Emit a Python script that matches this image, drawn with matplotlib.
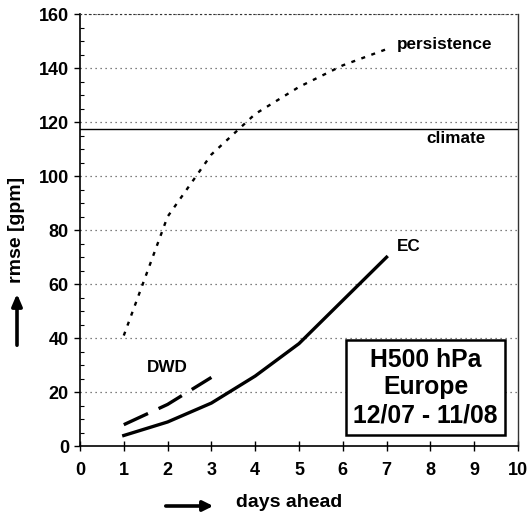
import numpy as np
import matplotlib
matplotlib.use("Agg")
import matplotlib.pyplot as plt
from matplotlib.ticker import MultipleLocator

plt.rcParams['font.family'] = ['Liberation Sans', 'DejaVu Sans']
plt.rcParams['font.weight'] = 'bold'

# data
days = [1, 2, 3, 4, 5, 6, 7]
persistence = [41, 85, 108, 123, 133, 141, 147]
ec = [4, 9, 16, 26, 38, 54, 70]
dwd_days = [1, 2, 3]
dwd = [8, 15.5, 25.5]
climate = 117.5

xticks = list(range(0, 11))
yticks = list(range(0, 161, 20))

fig = plt.figure(figsize=(5.28, 5.15), dpi=100)
ax = fig.add_axes([0.1515, 0.1334, 0.8295, 0.8394])

# grid
for y in yticks[1:]:
    ax.axhline(y, color='#555555', lw=0.9, ls=(0, (1, 3)), zorder=1)

ax.axhline(climate, color='black', lw=1.0, zorder=2)

ax.plot(days, persistence, color='black', lw=1.7, dashes=(1.7, 2.8), zorder=3)
ax.plot(days, ec, color='black', lw=2.4, solid_joinstyle='round', zorder=3)
ax.plot(dwd_days, dwd, color='black', lw=2.4, dashes=(8, 3.5), zorder=3)

ax.set_xlim(0, 10)
ax.set_ylim(0, 160)
ax.set_xticks(xticks)
ax.set_yticks(yticks)
ax.yaxis.set_minor_locator(MultipleLocator(5))
ax.tick_params(axis='x', direction='inout', length=7, width=1, labelsize=13, pad=8)
ax.tick_params(axis='y', which='major', direction='out', length=4, width=1, labelsize=13, pad=4)
ax.tick_params(axis='y', which='minor', direction='in', length=3, width=0.8)
ax.tick_params(axis='x', which='minor', bottom=False)
for lab in ax.get_xticklabels() + ax.get_yticklabels():
    lab.set_fontweight('bold')

for s in ['left', 'bottom']:
    ax.spines[s].set_linewidth(1.2)
ax.spines['right'].set_linewidth(1.0)
ax.spines['right'].set_color('#333333')
ax.spines['top'].set_linestyle((0, (1, 3)))
ax.spines['top'].set_color('#333333')

# annotations
ax.text(7.23, 148.6, 'persistence', fontsize=12.3, fontweight='bold', va='center', ha='left')
ax.text(7.9, 113.8, 'climate', fontsize=12.3, fontweight='bold', va='center', ha='left')
ax.text(7.23, 73.8, 'EC', fontsize=12.3, fontweight='bold', va='center', ha='left')
ax.text(1.52, 29, 'DWD', fontsize=12.3, fontweight='bold', va='center', ha='left')

ax.text(7.89, 21.8, 'H500 hPa\nEurope\n12/07 - 11/08', fontsize=17.8, fontweight='bold',
        ha='center', va='center', linespacing=1.2, zorder=5,
        bbox=dict(boxstyle='square,pad=0.3', facecolor='white', edgecolor='black', lw=1.8))

# axis labels with arrows
fig.text(0.032, 0.553, 'rmse [gpm]', rotation=90, fontsize=14, fontweight='bold',
         ha='center', va='center')
fig.text(0.547, 0.025, 'days ahead', fontsize=14, fontweight='bold',
         ha='center', va='center')
fig.add_artist(matplotlib.patches.FancyArrowPatch(
    (17 / 528, 1 - 348 / 515), (17 / 528, 1 - 291 / 515), transform=fig.transFigure,
    arrowstyle='-|>,head_length=7,head_width=3', lw=2.6, color='black', mutation_scale=1))
fig.add_artist(matplotlib.patches.FancyArrowPatch(
    (163 / 528, 1 - 506 / 515), (216 / 528, 1 - 506 / 515), transform=fig.transFigure,
    arrowstyle='-|>,head_length=6,head_width=3', lw=2.6, color='black', mutation_scale=1))

fig.savefig('out.png', dpi=100)
